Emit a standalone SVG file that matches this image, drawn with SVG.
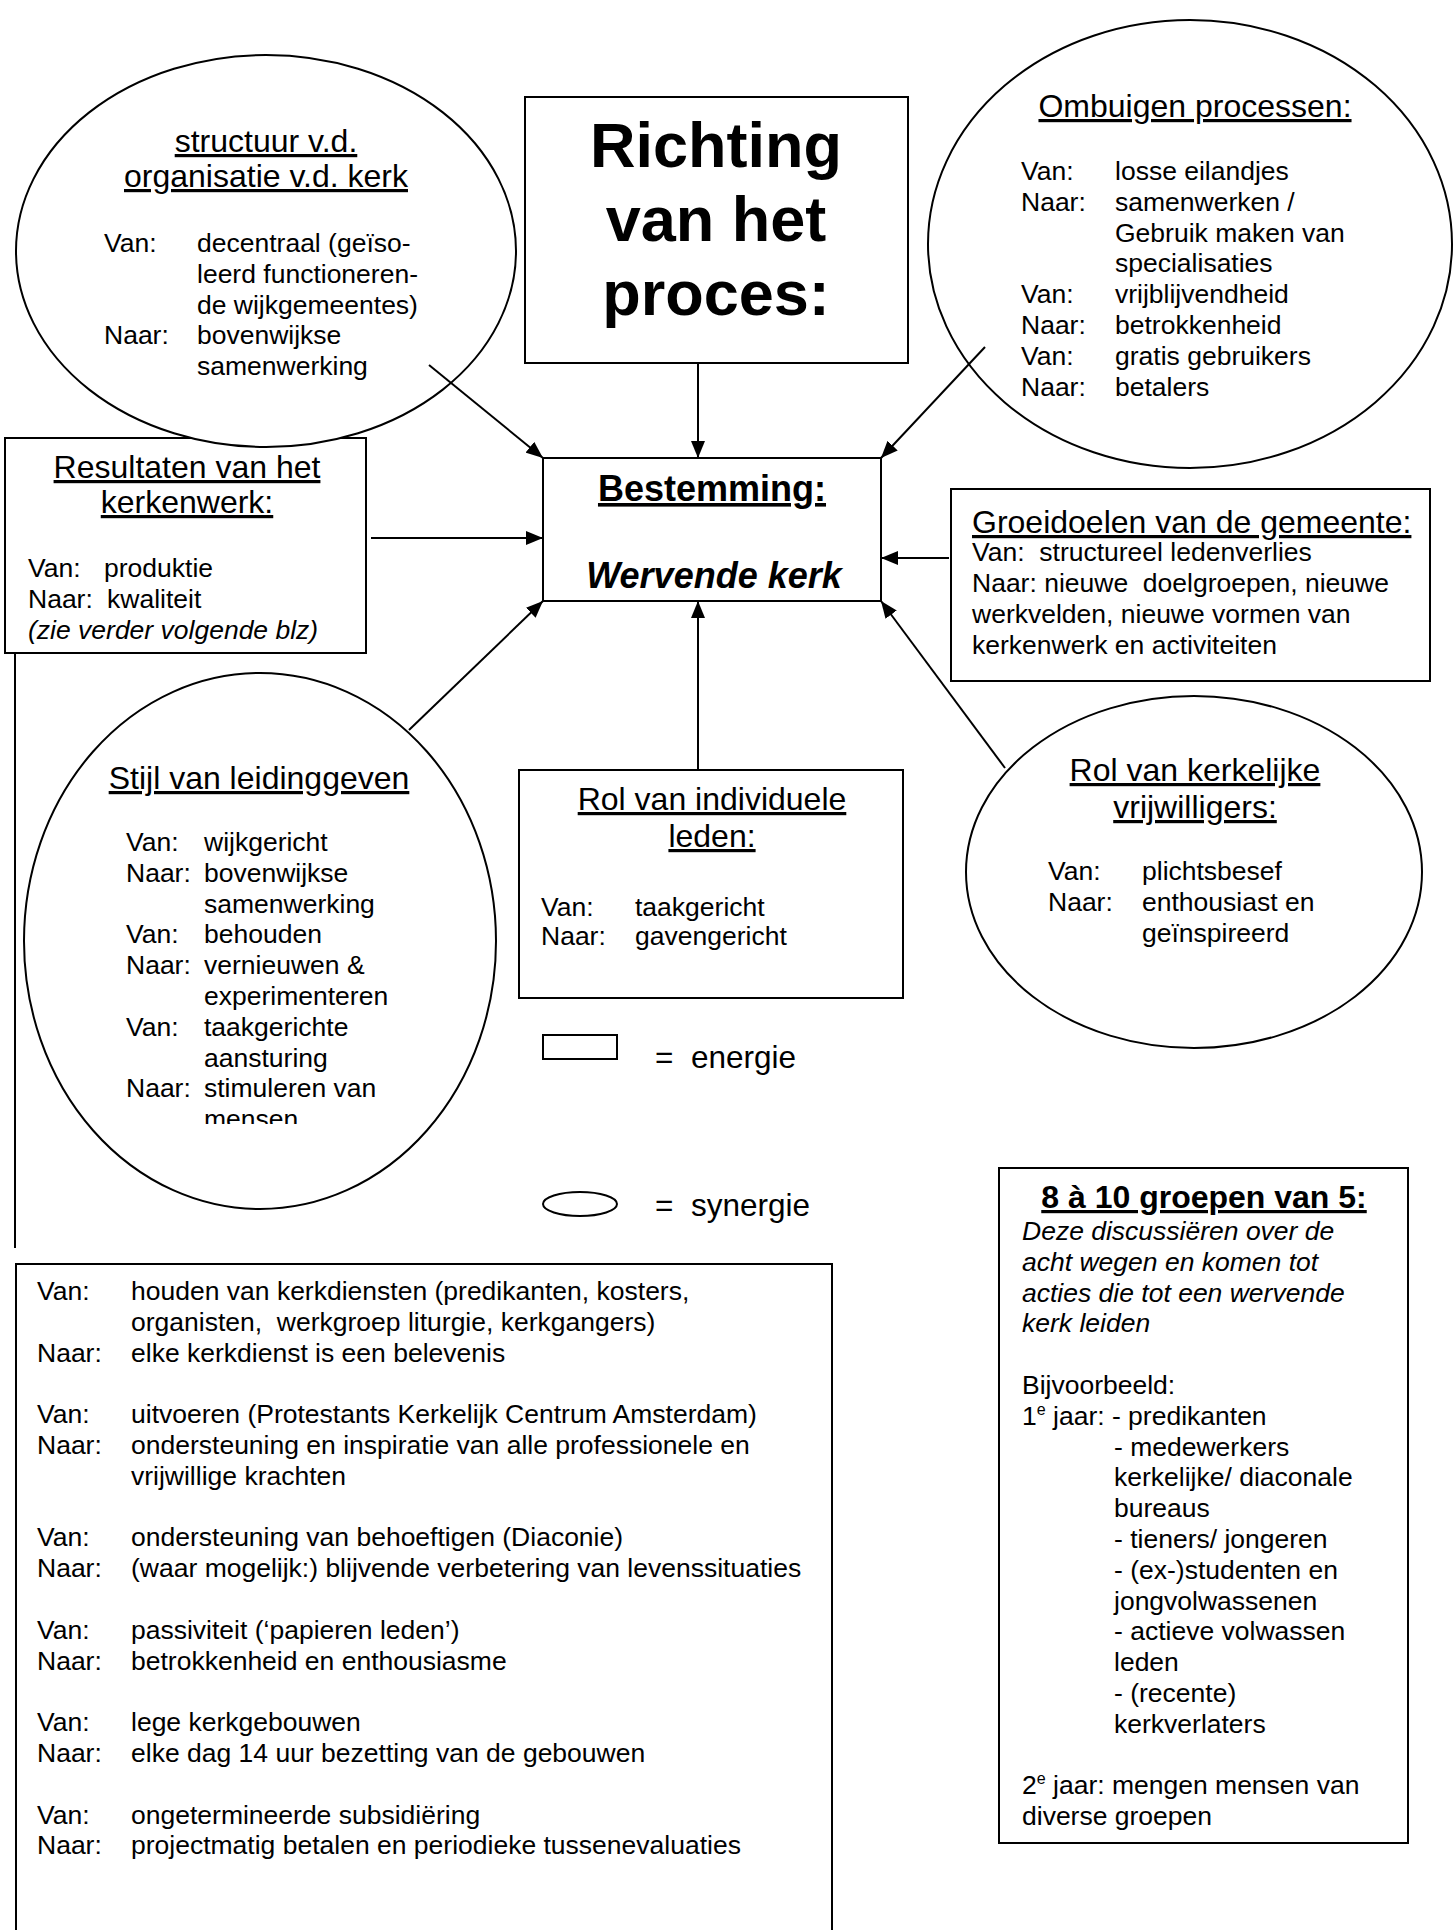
<svg xmlns="http://www.w3.org/2000/svg" width="1456" height="1930" viewBox="0 0 1456 1930">
<style>
text { font-family: "Liberation Sans", Arial, sans-serif; font-size: 26.5px; fill: #000; white-space: pre; }
.h { font-size: 32px; text-decoration: underline; text-anchor: middle; }
.c { text-anchor: middle; }
.big { font-size: 63px; font-weight: bold; text-anchor: middle; }
.b36 { font-size: 36px; font-weight: bold; text-anchor: middle; }
.i { font-style: italic; }
.shape { fill: #fff; stroke: #000; stroke-width: 2; }
.line { stroke: #000; stroke-width: 2; fill: none; }
.leg { font-size: 31.5px; }
</style>
<defs>
<marker id="ah" markerUnits="userSpaceOnUse" markerWidth="18" markerHeight="14" refX="17" refY="7" orient="auto">
<path d="M0,0 L17,7 L0,14 z" fill="#000"/>
</marker>
<clipPath id="clipStijl"><rect x="0" y="640" width="560" height="484"/></clipPath>
</defs>
<rect width="1456" height="1930" fill="#fff"/>

<g id="resultaten">
<rect class="shape" x="5" y="438" width="361" height="215"/>
<text class="h" x="187" y="478">Resultaten van het</text>
<text class="h" x="187" y="513">kerkenwerk:</text>
<text x="28" y="577">Van:</text><text x="104" y="577">produktie</text>
<text x="28" y="608">Naar:</text><text x="107" y="608">kwaliteit</text>
<text class="i" x="28" y="639">(zie verder volgende blz)</text>
</g>

<g id="structuur">
<ellipse class="shape" cx="266" cy="251" rx="250" ry="196"/>
<text class="h" x="266" y="152">structuur v.d.</text>
<text class="h" x="266" y="187">organisatie v.d. kerk</text>
<text x="104" y="252">Van:</text><text x="197" y="252">decentraal (geïso-</text>
<text x="197" y="283">leerd functioneren-</text>
<text x="197" y="314">de wijkgemeentes)</text>
<text x="104" y="344">Naar:</text><text x="197" y="344">bovenwijkse</text>
<text x="197" y="375">samenwerking</text>
</g>

<g id="richting">
<rect class="shape" x="525" y="97" width="383" height="266"/>
<text class="big" x="716" y="167">Richting</text>
<text class="big" x="716" y="241">van het</text>
<text class="big" x="716" y="315">proces:</text>
</g>

<g id="ombuigen">
<ellipse class="shape" cx="1190" cy="244" rx="262" ry="224"/>
<text class="h" x="1195" y="117">Ombuigen processen:</text>
<text x="1021" y="180">Van:</text><text x="1115" y="180">losse eilandjes</text>
<text x="1021" y="211">Naar:</text><text x="1115" y="211">samenwerken /</text>
<text x="1115" y="242">Gebruik maken van</text>
<text x="1115" y="272">specialisaties</text>
<text x="1021" y="303">Van:</text><text x="1115" y="303">vrijblijvendheid</text>
<text x="1021" y="334">Naar:</text><text x="1115" y="334">betrokkenheid</text>
<text x="1021" y="365">Van:</text><text x="1115" y="365">gratis gebruikers</text>
<text x="1021" y="396">Naar:</text><text x="1115" y="396">betalers</text>
</g>

<g id="bestemming">
<rect class="shape" x="543" y="458" width="338" height="143"/>
<text class="b36" x="712" y="501" text-decoration="underline">Bestemming:</text>
<text class="b36 i" x="714" y="588">Wervende kerk</text>
</g>

<g id="groeidoelen">
<rect class="shape" x="951" y="489" width="479" height="192"/>
<text x="972" y="533" style="font-size:32px" text-decoration="underline">Groeidoelen van de gemeente:</text>
<text x="972" y="561">Van:&#160; structureel ledenverlies</text>
<text x="972" y="592">Naar: nieuwe&#160; doelgroepen, nieuwe</text>
<text x="972" y="623">werkvelden, nieuwe vormen van</text>
<text x="972" y="654">kerkenwerk en activiteiten</text>
</g>

<g id="stijl">
<ellipse class="shape" cx="260" cy="941" rx="236" ry="268"/>
<text class="h" x="259" y="789">Stijl van leidinggeven</text>
<g clip-path="url(#clipStijl)">
<text x="126" y="851">Van:</text><text x="204" y="851">wijkgericht</text>
<text x="126" y="882">Naar:</text><text x="204" y="882">bovenwijkse</text>
<text x="204" y="913">samenwerking</text>
<text x="126" y="943">Van:</text><text x="204" y="943">behouden</text>
<text x="126" y="974">Naar:</text><text x="204" y="974">vernieuwen &amp;</text>
<text x="204" y="1005">experimenteren</text>
<text x="126" y="1036">Van:</text><text x="204" y="1036">taakgerichte</text>
<text x="204" y="1067">aansturing</text>
<text x="126" y="1097">Naar:</text><text x="204" y="1097">stimuleren van</text>
<text x="204" y="1128">mensen</text>
</g>
</g>

<g id="rol-individuele">
<rect class="shape" x="519" y="770" width="384" height="228"/>
<text class="h" x="712" y="810">Rol van individuele</text>
<text class="h" x="712" y="847">leden:</text>
<text x="541" y="916">Van:</text><text x="635" y="916">taakgericht</text>
<text x="541" y="945">Naar:</text><text x="635" y="945">gavengericht</text>
</g>

<g id="rol-vrijwilligers">
<ellipse class="shape" cx="1194" cy="872" rx="228" ry="176"/>
<text class="h" x="1195" y="781">Rol van kerkelijke</text>
<text class="h" x="1195" y="818">vrijwilligers:</text>
<text x="1048" y="880">Van:</text><text x="1142" y="880">plichtsbesef</text>
<text x="1048" y="911">Naar:</text><text x="1142" y="911">enthousiast en</text>
<text x="1142" y="942">geïnspireerd</text>
</g>

<g id="legenda">
<rect class="shape" x="543" y="1035" width="74" height="24" stroke-width="1.8"/>
<text class="leg" x="655" y="1068">=&#160; energie</text>
<ellipse class="shape" cx="580" cy="1204" rx="37" ry="12" stroke-width="1.8"/>
<text class="leg" x="655" y="1216">=&#160; synergie</text>
</g>

<g id="groepen">
<rect class="shape" x="999" y="1168" width="409" height="675"/>
<text class="h" x="1204" y="1208" style="font-weight:bold">8 à 10 groepen van 5:</text>
<text class="i" x="1022" y="1240">Deze discussiëren over de</text>
<text class="i" x="1022" y="1271">acht wegen en komen tot</text>
<text class="i" x="1022" y="1302">acties die tot een wervende</text>
<text class="i" x="1022" y="1332">kerk leiden</text>
<text x="1022" y="1394">Bijvoorbeeld:</text>
<text x="1022" y="1425">1<tspan style="font-size:16px" dy="-10">e</tspan><tspan dy="10"> jaar: - predikanten</tspan></text>
<text x="1114" y="1456">- medewerkers</text>
<text x="1114" y="1486">kerkelijke/ diaconale</text>
<text x="1114" y="1517">bureaus</text>
<text x="1114" y="1548">- tieners/ jongeren</text>
<text x="1114" y="1579">- (ex-)studenten en</text>
<text x="1114" y="1610">jongvolwassenen</text>
<text x="1114" y="1640">- actieve volwassen</text>
<text x="1114" y="1671">leden</text>
<text x="1114" y="1702">- (recente)</text>
<text x="1114" y="1733">kerkverlaters</text>
<text x="1022" y="1794">2<tspan style="font-size:16px" dy="-10">e</tspan><tspan dy="10"> jaar: mengen mensen van</tspan></text>
<text x="1022" y="1825">diverse groepen</text>
</g>

<g id="kerkenwerk-detail">
<rect class="shape" x="16" y="1264" width="816" height="700"/>
<text x="37" y="1300">Van:</text><text x="131" y="1300">houden van kerkdiensten (predikanten, kosters,</text>
<text x="131" y="1331">organisten,&#160; werkgroep liturgie, kerkgangers)</text>
<text x="37" y="1362">Naar:</text><text x="131" y="1362">elke kerkdienst is een belevenis</text>
<text x="37" y="1423">Van:</text><text x="131" y="1423">uitvoeren (Protestants Kerkelijk Centrum Amsterdam)</text>
<text x="37" y="1454">Naar:</text><text x="131" y="1454">ondersteuning en inspiratie van alle professionele en</text>
<text x="131" y="1485">vrijwillige krachten</text>
<text x="37" y="1546">Van:</text><text x="131" y="1546">ondersteuning van behoeftigen (Diaconie)</text>
<text x="37" y="1577">Naar:</text><text x="131" y="1577">(waar mogelijk:) blijvende verbetering van levenssituaties</text>
<text x="37" y="1639">Van:</text><text x="131" y="1639">passiviteit (‘papieren leden’)</text>
<text x="37" y="1670">Naar:</text><text x="131" y="1670">betrokkenheid en enthousiasme</text>
<text x="37" y="1731">Van:</text><text x="131" y="1731">lege kerkgebouwen</text>
<text x="37" y="1762">Naar:</text><text x="131" y="1762">elke dag 14 uur bezetting van de gebouwen</text>
<text x="37" y="1824">Van:</text><text x="131" y="1824">ongetermineerde subsidiëring</text>
<text x="37" y="1854">Naar:</text><text x="131" y="1854">projectmatig betalen en periodieke tussenevaluaties</text>
</g>

<g id="connectors">
<line class="line" x1="698" y1="363" x2="698" y2="458" marker-end="url(#ah)"/>
<line class="line" x1="429" y1="365" x2="543" y2="458" marker-end="url(#ah)"/>
<line class="line" x1="985" y1="347" x2="881" y2="458" marker-end="url(#ah)"/>
<line class="line" x1="371" y1="538" x2="543" y2="538" marker-end="url(#ah)"/>
<line class="line" x1="949" y1="558" x2="881" y2="558" marker-end="url(#ah)"/>
<line class="line" x1="409" y1="730" x2="543" y2="601" marker-end="url(#ah)"/>
<line class="line" x1="698" y1="770" x2="698" y2="601" marker-end="url(#ah)"/>
<line class="line" x1="1005" y1="768" x2="881" y2="601" marker-end="url(#ah)"/>
<line class="line" x1="15" y1="653" x2="15" y2="1248"/>
</g>
</svg>
